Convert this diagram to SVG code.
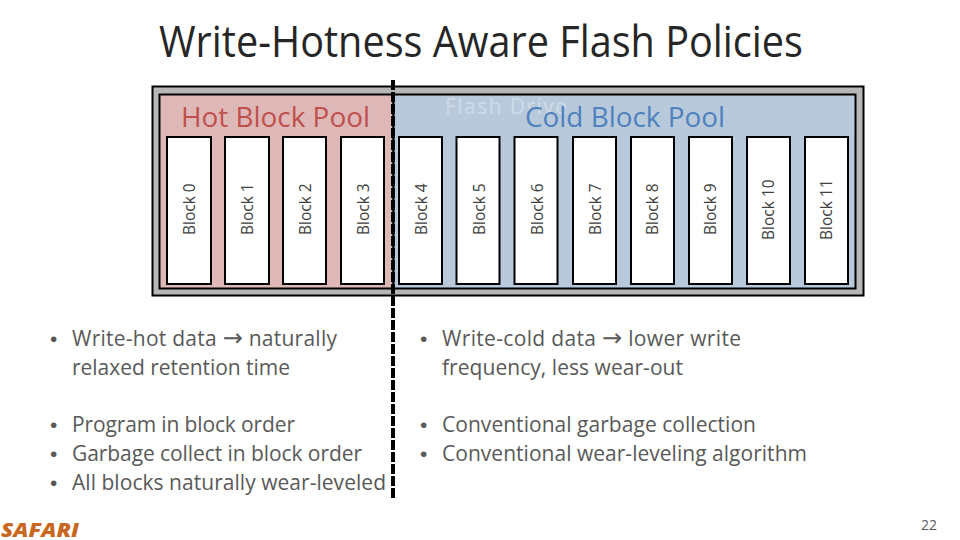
<svg xmlns="http://www.w3.org/2000/svg" width="960" height="540" viewBox="0 0 960 540">
<style>
text{font-family:"Open Sans","Noto Sans",sans-serif}
.body{font-size:21px;fill:#595959}
.body .dot{font-family:"Liberation Sans",sans-serif;font-size:21px}
.body .arr{font-family:"DejaVu Sans",sans-serif;font-size:24px}
.blk rect{fill:#fff;stroke:#000;stroke-width:2}
.blk text{font-size:15.5px;fill:#404040}
.frame{stroke:#000;stroke-width:2}
</style>
<rect width="960" height="540" fill="#fff"/>
<text x="159" y="57" font-size="44" fill="#262626" textLength="644" lengthAdjust="spacingAndGlyphs">Write-Hotness Aware Flash Policies</text>
<g id="flash-drive">
<rect class="frame" x="152.500" y="86.500" width="711" height="209" fill="#b7b7b7"/>
</g>
<g id="hot-pool">
<rect class="frame" x="159.500" y="94.500" width="234" height="194" fill="#deb8b7"/>
<text x="181" y="127" font-size="27" fill="#c0504d" textLength="189" lengthAdjust="spacingAndGlyphs">Hot Block Pool</text>
</g>
<g id="cold-pool">
<rect class="frame" x="393.500" y="94.500" width="462" height="194" fill="#b8c9dc"/>
<text x="445" y="114" font-size="21" fill="#cfdbe8" textLength="122">Flash Drive</text>
<text x="525" y="127" font-size="27" fill="#4f81bd" textLength="200" lengthAdjust="spacingAndGlyphs">Cold Block Pool</text>
</g>
<g id="block-0" class="blk"><rect x="167" y="137" width="44" height="147"/><text transform="translate(195,235) rotate(-90)">Block 0</text></g>
<g id="block-1" class="blk"><rect x="225" y="137" width="44" height="147"/><text transform="translate(253,235) rotate(-90)">Block 1</text></g>
<g id="block-2" class="blk"><rect x="283" y="137" width="43" height="147"/><text transform="translate(311,235) rotate(-90)">Block 2</text></g>
<g id="block-3" class="blk"><rect x="341" y="137" width="43" height="147"/><text transform="translate(369,235) rotate(-90)">Block 3</text></g>
<g id="block-4" class="blk"><rect x="399" y="137" width="43" height="147"/><text transform="translate(427,235) rotate(-90)">Block 4</text></g>
<g id="block-5" class="blk"><rect x="456.500" y="137" width="43" height="147"/><text transform="translate(485,235) rotate(-90)">Block 5</text></g>
<g id="block-6" class="blk"><rect x="514.500" y="137" width="43" height="147"/><text transform="translate(543,235) rotate(-90)">Block 6</text></g>
<g id="block-7" class="blk"><rect x="573" y="137" width="43" height="147"/><text transform="translate(601,235) rotate(-90)">Block 7</text></g>
<g id="block-8" class="blk"><rect x="631" y="137" width="43" height="147"/><text transform="translate(658,235) rotate(-90)">Block 8</text></g>
<g id="block-9" class="blk"><rect x="689" y="137" width="43" height="147"/><text transform="translate(716,235) rotate(-90)">Block 9</text></g>
<g id="block-10" class="blk"><rect x="747" y="137" width="43" height="147"/><text transform="translate(774,240) rotate(-90)">Block 10</text></g>
<g id="block-11" class="blk"><rect x="805" y="137" width="43" height="147"/><text transform="translate(832,240) rotate(-90)">Block 11</text></g>
<g id="connectors">
<line x1="393" y1="80" x2="393" y2="500" stroke="#000" stroke-width="4" stroke-dasharray="10 2"/>
</g>
<g id="notes-left" class="body">
<text x="50" y="346" class="dot">•</text><text x="72" y="346" textLength="265">Write-hot data <tspan class="arr">→</tspan> naturally</text>
<text x="72" y="375" textLength="218">relaxed retention time</text>
<text x="50" y="432" class="dot">•</text><text x="72" y="432" textLength="223">Program in block order</text>
<text x="50" y="461" class="dot">•</text><text x="72" y="461" textLength="290">Garbage collect in block order</text>
<text x="50" y="490" class="dot">•</text><text x="72" y="490" textLength="314">All blocks naturally wear-leveled</text>
</g>
<g id="notes-right" class="body">
<text x="420" y="346" class="dot">•</text><text x="442" y="346" textLength="299">Write-cold data <tspan class="arr">→</tspan> lower write</text>
<text x="442" y="375" textLength="241">frequency, less wear-out</text>
<text x="420" y="432" class="dot">•</text><text x="442" y="432" textLength="314">Conventional garbage collection</text>
<text x="420" y="461" class="dot">•</text><text x="442" y="461" textLength="365">Conventional wear-leveling algorithm</text>
</g>
<text x="1" y="537" font-size="20" font-weight="800" font-style="italic" fill="#c9661f" textLength="78" lengthAdjust="spacingAndGlyphs">SAFARI</text>
<text x="937" y="530" font-size="14" fill="#595959" text-anchor="end">22</text>
</svg>
